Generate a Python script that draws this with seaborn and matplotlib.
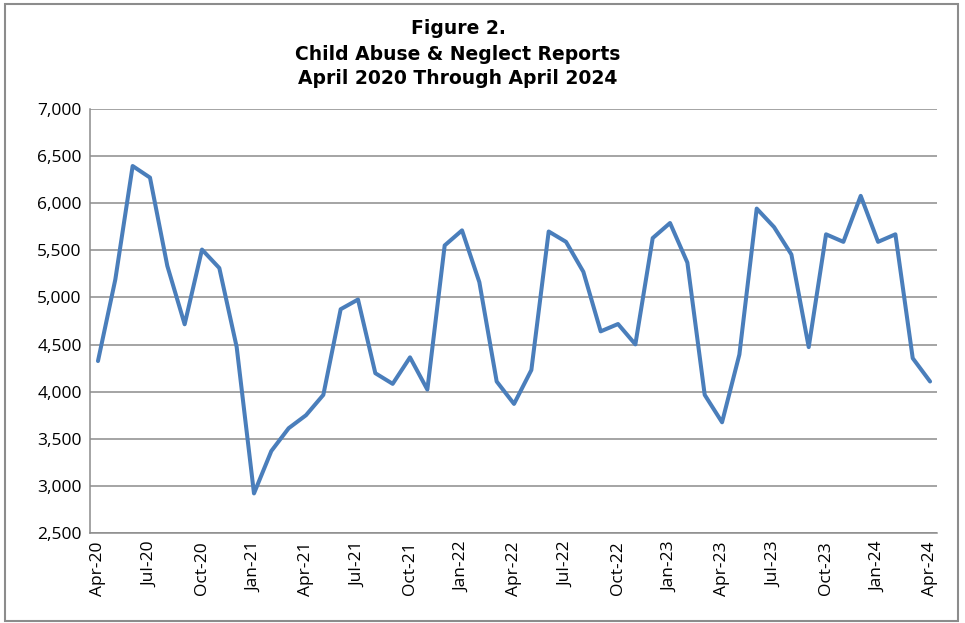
import matplotlib
matplotlib.use("Agg")
import matplotlib.pyplot as plt
import matplotlib.ticker as mticker
from matplotlib.patches import Rectangle
import seaborn as sns
import pandas as pd

# Monthly reports, Apr-20 .. Apr-24
months = ["Apr-20", "May-20", "Jun-20", "Jul-20", "Aug-20", "Sep-20", "Oct-20", "Nov-20", "Dec-20",
          "Jan-21", "Feb-21", "Mar-21", "Apr-21", "May-21", "Jun-21", "Jul-21", "Aug-21", "Sep-21",
          "Oct-21", "Nov-21", "Dec-21", "Jan-22", "Feb-22", "Mar-22", "Apr-22", "May-22", "Jun-22",
          "Jul-22", "Aug-22", "Sep-22", "Oct-22", "Nov-22", "Dec-22", "Jan-23", "Feb-23", "Mar-23",
          "Apr-23", "May-23", "Jun-23", "Jul-23", "Aug-23", "Sep-23", "Oct-23", "Nov-23", "Dec-23",
          "Jan-24", "Feb-24", "Mar-24", "Apr-24"]
reports = [4325, 5190, 6395, 6272, 5335, 4715, 5508, 5312, 4475,
           2920, 3370, 3612, 3750, 3966, 4875, 4978, 4196, 4083,
           4364, 4022, 5552, 5712, 5162, 4108, 3870, 4230, 5700,
           5590, 5272, 4640, 4718, 4502, 5630, 5790, 5370, 3966,
           3675, 4394, 5943, 5747, 5456, 4473, 5670, 5590, 6078,
           5590, 5670, 4355, 4108]

df = pd.DataFrame({"idx": range(len(months)), "month": months, "reports": reports})

sns.set_style("white")
plt.rcParams["font.family"] = ["Open Sans", "DejaVu Sans"]

fig = plt.figure(figsize=(9.65, 6.23), dpi=100)
ax = fig.add_axes([90 / 965, 1 - 533 / 623, (937 - 90) / 965, (533 - 109) / 623])

sns.lineplot(data=df, x="idx", y="reports", ax=ax, color="#4A7EBB", linewidth=2.9)

ax.set_ylim(2500, 7000)
ax.set_yticks(range(2500, 7001, 500))
ax.yaxis.set_major_formatter(mticker.StrMethodFormatter("{x:,.0f}"))
ax.set_xlim(-0.46, 48.4)
ax.set_xticks(df["idx"][::3])
ax.set_xticklabels(df["month"][::3], rotation=90)
ax.tick_params(axis="both", length=0, labelsize=12.5, colors="black")
ax.tick_params(axis="x", pad=6)
ax.tick_params(axis="y", pad=6)
ax.set_xlabel("")
ax.set_ylabel("")

ax.grid(axis="y", color="#8c8c8c", linewidth=1.1)
ax.set_axisbelow(True)
for s in ["top", "right"]:
    ax.spines[s].set_visible(False)
for s in ["left", "bottom"]:
    ax.spines[s].set_color("#8c8c8c")
    ax.spines[s].set_linewidth(1.1)

fig.text(458 / 965, 1 - 54 / 623,
         "Figure 2.\nChild Abuse & Neglect Reports\nApril 2020 Through April 2024",
         ha="center", va="center", fontsize=13.5, fontweight="bold", color="black",
         family=["DejaVu Sans"], linespacing=1.4)

# outer chart border
fig.patches.append(Rectangle((5 / 965, 1 - 621 / 623), 953 / 965, 617 / 623,
                             transform=fig.transFigure, fill=False,
                             edgecolor="#8c8c8c", linewidth=1.5))

fig.savefig("out.png", dpi=100)
